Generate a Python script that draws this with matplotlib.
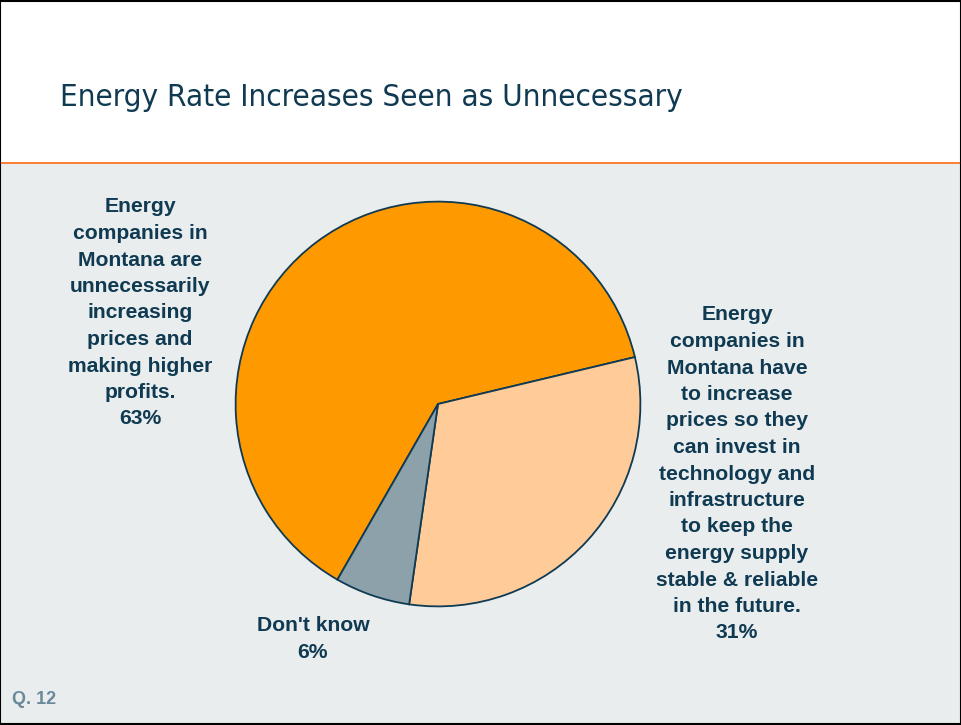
import matplotlib
from matplotlib import pyplot as plt
from matplotlib.patches import Rectangle

labels = ["Energy\ncompanies in\nMontana are\nunnecessarily\nincreasing\nprices and\nmaking higher\nprofits.\n63%",
          "Energy\ncompanies in\nMontana have\nto increase\nprices so they\ncan invest in\ntechnology and\ninfrastructure\nto keep the\nenergy supply\nstable & reliable\nin the future.\n31%",
          "Don't know\n6%"]
values = [63, 31, 6]
colors = ["#ff9900", "#ffcc99", "#8ca1aa"]

navy = "#0f3a52"

fig = plt.figure(figsize=(9.61, 7.25), dpi=100)
fig.patch.set_facecolor("white")

# grey panel + orange rule
fig.patches.append(Rectangle((0, 0), 1, 1 - 163 / 725, transform=fig.transFigure,
                             facecolor="#e9edee", edgecolor="none", zorder=-10))
fig.lines.append(plt.Line2D([0, 1], [1 - 163 / 725] * 2, transform=fig.transFigure,
                            color="#ff6a13", lw=1.2, zorder=-5))
fig.patches.append(Rectangle((0.0005, 0.001), 0.999, 0.998, transform=fig.transFigure,
                             facecolor="none", edgecolor="black", lw=1.5, zorder=5))

fig.text(60 / 961, 1 - 97 / 725, "Energy Rate Increases Seen as Unnecessary",
         fontsize=22.5, color=navy, va="center", ha="left",
         family="DejaVu Sans", fontstretch="condensed", fontweight="light")

# pie: centre (438, 404), radius ~203 px
cx, cy, r = 438, 404, 203
ax = fig.add_axes([(cx - r) / 961, 1 - (cy + r) / 725, 2 * r / 961, 2 * r / 725])
ax.set_facecolor("none")
ax.pie(values, colors=colors, startangle=240.2, counterclock=False,
       wedgeprops=dict(edgecolor=navy, linewidth=1.3))
ax.set_aspect("auto")
ax.set_xlim(-1.003, 1.003)
ax.set_ylim(-1.003, 1.003)

font = dict(fontsize=15.2, fontweight="bold", color=navy, ha="center", va="center",
            family="Liberation Sans", linespacing=1.5)
fig.text(140 / 961, 1 - 313 / 725, labels[0], **font)
fig.text(737 / 961, 1 - 474 / 725, labels[1], **font)
fig.text(313 / 961, 1 - 639 / 725, labels[2], **font)

fig.text(12 / 961, 1 - 699 / 725, "Q. 12", fontsize=13, fontweight="bold",
         color="#6b8a99", ha="left", va="center", family="Liberation Sans")

fig.savefig("out.png", dpi=100)
